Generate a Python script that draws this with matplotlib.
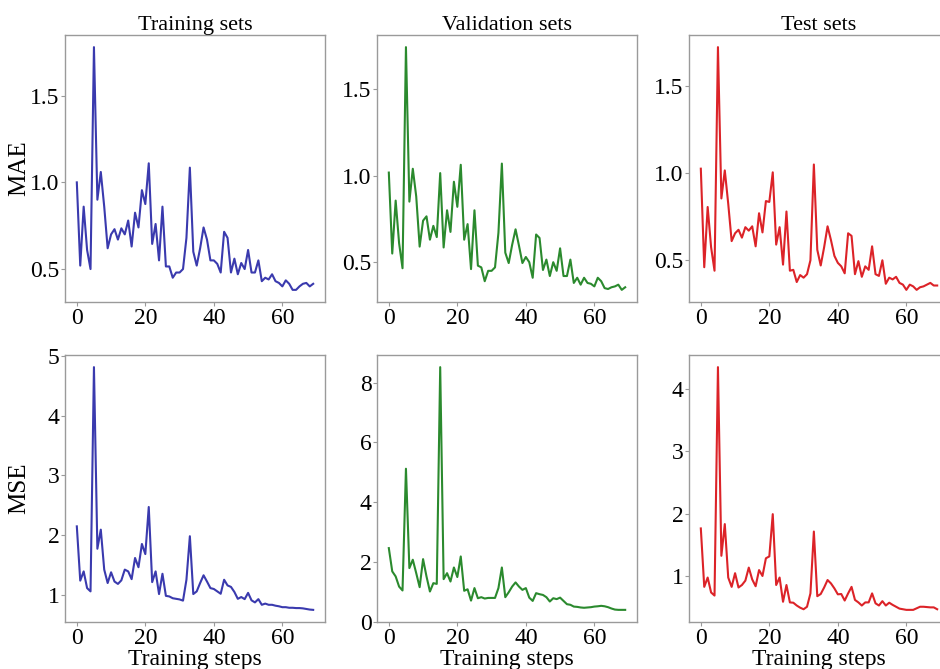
import matplotlib
matplotlib.use("Agg")
import matplotlib.pyplot as plt

steps = list(range(70))

mae_train = [1.00, 0.52, 0.86, 0.61, 0.50, 1.78, 0.90, 1.06, 0.86, 0.62,
             0.70, 0.73, 0.67, 0.735, 0.70, 0.78, 0.63, 0.825, 0.74, 0.955,
             0.875, 1.11, 0.645, 0.76, 0.55, 0.86, 0.515, 0.515, 0.45, 0.48,
             0.48, 0.50, 0.68, 1.085, 0.60, 0.52, 0.62, 0.74, 0.67, 0.55,
             0.55, 0.53, 0.48, 0.715, 0.68, 0.48, 0.56, 0.47, 0.535, 0.50,
             0.61, 0.48, 0.48, 0.55, 0.43, 0.45, 0.44, 0.47, 0.43, 0.42,
             0.40, 0.435, 0.415, 0.38, 0.38, 0.40, 0.415, 0.42, 0.40, 0.415]
mae_val = [1.018, 0.55, 0.856, 0.61, 0.465, 1.743, 0.85, 1.04, 0.88, 0.59,
           0.74, 0.765, 0.63, 0.71, 0.645, 1.015, 0.585, 0.80, 0.675, 0.965,
           0.82, 1.063, 0.63, 0.72, 0.46, 0.80, 0.48, 0.47, 0.39, 0.45,
           0.45, 0.47, 0.67, 1.07, 0.555, 0.495, 0.60, 0.69, 0.595, 0.495,
           0.53, 0.50, 0.41, 0.66, 0.64, 0.455, 0.515, 0.42, 0.50, 0.45,
           0.58, 0.42, 0.42, 0.515, 0.38, 0.41, 0.37, 0.41, 0.38, 0.375,
           0.36, 0.41, 0.39, 0.35, 0.345, 0.355, 0.36, 0.37, 0.34, 0.355]
mae_test = [1.026, 0.46, 0.806, 0.575, 0.44, 1.724, 0.855, 1.016, 0.825, 0.61,
            0.655, 0.675, 0.63, 0.69, 0.67, 0.695, 0.58, 0.77, 0.66, 0.84,
            0.835, 1.005, 0.59, 0.69, 0.475, 0.78, 0.44, 0.445, 0.375, 0.415,
            0.40, 0.42, 0.50, 1.05, 0.56, 0.47, 0.575, 0.695, 0.615, 0.525,
            0.485, 0.465, 0.425, 0.655, 0.64, 0.42, 0.495, 0.405, 0.465, 0.445,
            0.58, 0.42, 0.41, 0.50, 0.365, 0.40, 0.39, 0.405, 0.37, 0.36,
            0.33, 0.36, 0.35, 0.33, 0.345, 0.35, 0.36, 0.37, 0.355, 0.355]

mse_train = [2.145, 1.235, 1.39, 1.11, 1.055, 4.815, 1.77, 2.09, 1.42, 1.195,
             1.375, 1.22, 1.18, 1.24, 1.42, 1.39, 1.26, 1.615, 1.46, 1.85,
             1.68, 2.47, 1.21, 1.39, 1.01, 1.35, 0.98, 0.97, 0.94, 0.93,
             0.92, 0.90, 1.25, 1.98, 1.01, 1.055, 1.195, 1.325, 1.22, 1.11,
             1.095, 1.055, 1.015, 1.25, 1.155, 1.13, 1.045, 0.93, 0.96, 0.925,
             1.03, 0.905, 0.87, 0.925, 0.83, 0.85, 0.83, 0.83, 0.815, 0.805,
             0.79, 0.79, 0.78, 0.78, 0.775, 0.775, 0.77, 0.76, 0.75, 0.745]
mse_val = [2.46, 1.68, 1.51, 1.17, 1.04, 5.12, 1.79, 2.07, 1.62, 1.15,
           2.09, 1.51, 1.005, 1.285, 1.26, 8.525, 1.42, 1.62, 1.34, 1.81,
           1.49, 2.18, 1.03, 1.08, 0.70, 1.12, 0.78, 0.815, 0.77, 0.79,
           0.79, 0.79, 1.12, 1.81, 0.815, 0.98, 1.17, 1.31, 1.17, 1.06,
           1.12, 0.80, 0.69, 0.95, 0.915, 0.89, 0.815, 0.67, 0.78, 0.75,
           0.80, 0.69, 0.58, 0.56, 0.50, 0.49, 0.47, 0.46, 0.47, 0.48,
           0.50, 0.51, 0.525, 0.51, 0.48, 0.435, 0.40, 0.39, 0.39, 0.39]
mse_test = [1.76, 0.82, 0.97, 0.73, 0.68, 4.355, 1.32, 1.83, 0.97, 0.82,
            1.04, 0.81, 0.85, 0.92, 1.13, 0.94, 0.83, 1.09, 0.995, 1.28,
            1.31, 1.99, 0.85, 0.97, 0.58, 0.85, 0.57, 0.565, 0.52, 0.485,
            0.46, 0.50, 0.715, 1.71, 0.67, 0.705, 0.81, 0.93, 0.875, 0.795,
            0.70, 0.705, 0.60, 0.715, 0.82, 0.61, 0.57, 0.52, 0.57, 0.57,
            0.715, 0.555, 0.52, 0.59, 0.52, 0.565, 0.53, 0.50, 0.47, 0.46,
            0.45, 0.45, 0.45, 0.475, 0.50, 0.50, 0.495, 0.49, 0.49, 0.46]

titles = ["Training sets", "Validation sets", "Test sets"]
row_labels = ["MAE", "MSE"]
colors = ["#3a3aae", "#2b8a2e", "#dc2328"]
data = [[mae_train, mae_val, mae_test], [mse_train, mse_val, mse_test]]

plt.rcParams["font.family"] = ["Liberation Serif", "DejaVu Serif"]

W, H = 940, 669
fig = plt.figure(figsize=(W / 100, H / 100), dpi=100)

lefts = [65, 377, 689]
tops = [35, 355]
aw, ah = 260, 267

for r in range(2):
    for c in range(3):
        ax = fig.add_axes([lefts[c] / W, 1 - (tops[r] + ah) / H, aw / W, ah / H])
        ax.plot(steps, data[r][c], color=colors[c], lw=1.5)
        for s in ax.spines.values():
            s.set_color("#9a9a9a")
            s.set_linewidth(1.0)
        ax.tick_params(labelsize=17, length=3, width=0.8, color="#9a9a9a", pad=1)
        ax.set_xticks([0, 20, 40, 60])
        if r == 0:
            ax.set_title(titles[c], fontsize=16, pad=3)
        else:
            ax.set_xlabel("Training steps", fontsize=17, labelpad=0)
        if c == 0:
            ax.set_ylabel(row_labels[r], fontsize=18)
            ax.yaxis.set_label_coords(-0.135, 0.5)

fig.savefig("out.png", dpi=100)
